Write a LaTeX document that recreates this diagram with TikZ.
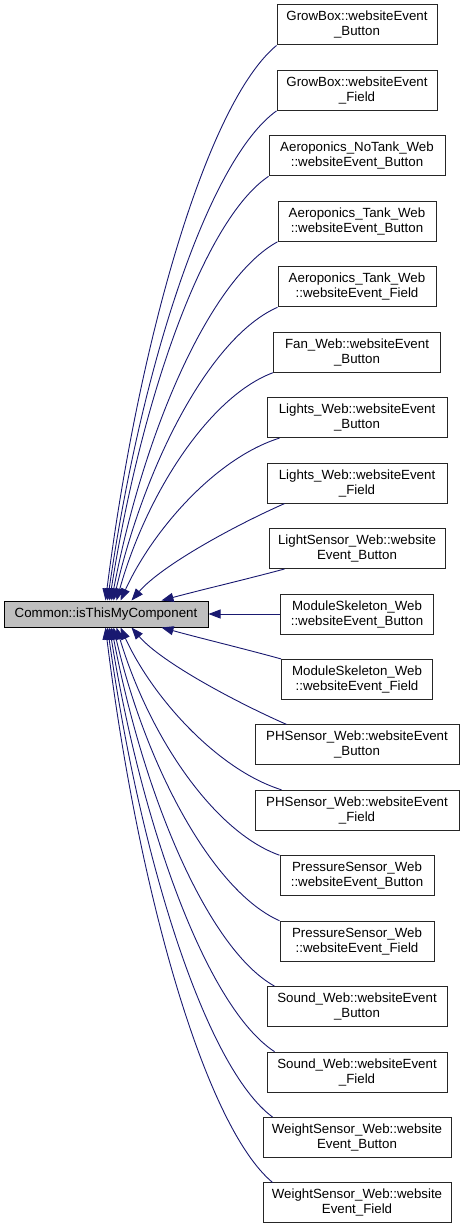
\documentclass[tikz,border=0pt]{standalone}
\usepackage{fontspec}
\setmainfont{Liberation Sans}
\usepackage{tikz}
\usetikzlibrary{arrows.meta}

\definecolor{edgeblue}{HTML}{191970}
\definecolor{rootgray}{HTML}{BFBFBF}

\begin{document}
\begin{tikzpicture}[
    x=1pt, y=-1pt,
    font=\fontsize{13.3}{15}\selectfont,
    >={Triangle[length=12pt,width=9pt]},
    func/.style={draw=black!85, line width=1pt, fill=white, align=center,
                 inner sep=0pt, minimum height=40pt},
    root/.style={draw=black, line width=1pt, fill=rootgray, inner sep=0pt,
                 minimum height=26pt, minimum width=204pt},
    call/.style={draw=edgeblue, line width=0.9pt, ->}
]
\useasboundingbox (0,0) rectangle (464,1228);

% =========================================================================
% 1. CALLED FUNCTION
% =========================================================================
\node[root] (comp) at (106,614) {Common::isThisMyComponent};

% =========================================================================
% 2. CALLERS (one column, centred at x = 357)
% =========================================================================
\node[func, minimum width=160pt] (c1)  at (357,25.0)   {GrowBox::websiteEvent\\\_Button};
\node[func, minimum width=160pt] (c2)  at (357,90.4)   {GrowBox::websiteEvent\\\_Field};
\node[func, minimum width=176pt] (c3)  at (357,155.9)  {Aeroponics\_NoTank\_Web\\::websiteEvent\_Button};
\node[func, minimum width=158pt] (c4)  at (357,221.3)  {Aeroponics\_Tank\_Web\\::websiteEvent\_Button};
\node[func, minimum width=158pt] (c5)  at (357,286.8)  {Aeroponics\_Tank\_Web\\::websiteEvent\_Field};
\node[func, minimum width=167pt] (c6)  at (357,352.2)  {Fan\_Web::websiteEvent\\\_Button};
\node[func, minimum width=180pt] (c7)  at (357,417.6)  {Lights\_Web::websiteEvent\\\_Button};
\node[func, minimum width=180pt] (c8)  at (357,483.1)  {Lights\_Web::websiteEvent\\\_Field};
\node[func, minimum width=176pt] (c9)  at (357,548.5)  {LightSensor\_Web::website\\Event\_Button};
\node[func, minimum width=153pt] (c10) at (357,614.0)  {ModuleSkeleton\_Web\\::websiteEvent\_Button};
\node[func, minimum width=151pt] (c11) at (357,679.4)  {ModuleSkeleton\_Web\\::websiteEvent\_Field};
\node[func, minimum width=204pt] (c12) at (357,744.9)  {PHSensor\_Web::websiteEvent\\\_Button};
\node[func, minimum width=204pt] (c13) at (357,810.3)  {PHSensor\_Web::websiteEvent\\\_Field};
\node[func, minimum width=154pt] (c14) at (357,875.7)  {PressureSensor\_Web\\::websiteEvent\_Button};
\node[func, minimum width=154pt] (c15) at (357,941.2)  {PressureSensor\_Web\\::websiteEvent\_Field};
\node[func, minimum width=180pt] (c16) at (357,1006.6) {Sound\_Web::websiteEvent\\\_Button};
\node[func, minimum width=180pt] (c17) at (357,1072.1) {Sound\_Web::websiteEvent\\\_Field};
\node[func, minimum width=188pt] (c18) at (357,1137.5) {WeightSensor\_Web::website\\Event\_Button};
\node[func, minimum width=188pt] (c19) at (357,1202.9) {WeightSensor\_Web::website\\Event\_Field};

% =========================================================================
% 3. CALL EDGES (caller -> called)
% =========================================================================
% Upper callers: into the top side
\draw[call] (c1.south west) .. controls +(-68,56) and +(34,-267) .. ([xshift=102pt]comp.north west);
\draw[call] (c2.south west) .. controls +(-68,49) and +(34,-236) .. ([xshift=104pt]comp.north west);
\draw[call] (c3.south west) .. controls +(-64,43) and +(32,-204) .. ([xshift=106pt]comp.north west);
\draw[call] (c4.south west) .. controls +(-66,36) and +(33,-173) .. ([xshift=108pt]comp.north west);
\draw[call] (c5.south west) .. controls +(-66,29) and +(33,-141) .. ([xshift=110pt]comp.north west);
\draw[call] (c6.south west) .. controls +(-62,23) and +(31,-110) .. ([xshift=113pt]comp.north west);
\draw[call] ([xshift=13pt]c7.south west) .. controls +(-64,20) and +(32,-70) .. ([xshift=117pt]comp.north west);
\draw[call] ([xshift=18pt]c8.south west) .. controls +(-50,22) and +(30,-35) .. ([xshift=128pt]comp.north west);
\draw[call] ([xshift=16pt]c9.south west) .. controls +(-41,11) and +(41,-11) .. ([xshift=158pt]comp.north west);

% Same row: straight in
\draw[call] (c10.west) -- (comp.east);

% Lower callers: into the bottom side
\draw[call] (c11.north west) .. controls +(-40,-11) and +(40,11) .. ([xshift=158pt]comp.south west);
\draw[call] ([xshift=32pt]c12.north west) .. controls +(-50,-22) and +(30,35) .. ([xshift=128pt]comp.south west);
\draw[call] ([xshift=27pt]c13.north west) .. controls +(-64,-20) and +(32,70) .. ([xshift=117pt]comp.south west);
\draw[call] (c14.north west) .. controls +(-65,-23) and +(33,110) .. ([xshift=113pt]comp.south west);
\draw[call] (c15.north west) .. controls +(-66,-29) and +(33,141) .. ([xshift=110pt]comp.south west);
\draw[call] ([xshift=8pt]c16.north west) .. controls +(-65,-36) and +(33,173) .. ([xshift=108pt]comp.south west);
\draw[call] ([xshift=8pt]c17.north west) .. controls +(-66,-43) and +(33,204) .. ([xshift=106pt]comp.south west);
\draw[call] ([xshift=10pt]c18.north west) .. controls +(-66,-49) and +(33,235) .. ([xshift=104pt]comp.south west);
\draw[call] ([xshift=10pt]c19.north west) .. controls +(-67,-56) and +(33,267) .. ([xshift=102pt]comp.south west);

\end{tikzpicture}
\end{document}
